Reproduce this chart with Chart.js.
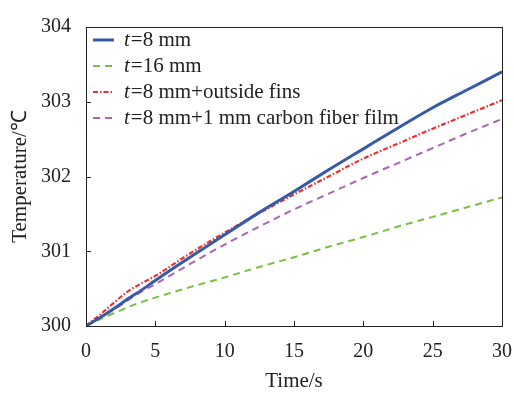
<!DOCTYPE html>
<html>
<head>
<meta charset="utf-8">
<script src="https://cdn.jsdelivr.net/npm/chart.js@4/dist/chart.umd.min.js"></script>
<style>
  body { margin: 0; background: #fff; }
  #wrap { width: 514px; height: 394px; }
</style>
</head>
<body>
<div id="wrap"><canvas id="tempChart" width="514" height="394"></canvas></div>
<script>
const times = [0, 1, 2, 3, 4, 5, 7.5, 10, 12.5, 15, 17.5, 20, 22.5, 25, 27.5, 30];
const t8 = [300, 300.11, 300.23, 300.36, 300.48, 300.61, 300.92, 301.22, 301.52, 301.80, 302.09, 302.37, 302.65, 302.92, 303.16, 303.40];
const t16 = [300, 300.09, 300.17, 300.25, 300.32, 300.38, 300.52, 300.65, 300.79, 300.92, 301.06, 301.19, 301.33, 301.46, 301.59, 301.72];
const t8Fins = [300, 300.15, 300.31, 300.46, 300.57, 300.67, 300.97, 301.25, 301.51, 301.76, 302.00, 302.24, 302.44, 302.64, 302.83, 303.02];
const t8Film = [300, 300.11, 300.22, 300.34, 300.46, 300.56, 300.83, 301.09, 301.33, 301.56, 301.77, 301.98, 302.18, 302.38, 302.58, 302.77];
const seriesNames = ["=8 mm", "=16 mm", "=8 mm+outside fins", "=8 mm+1 mm carbon fiber film"];
const xTicks = [5, 10, 15, 20, 25];
const yTicks = [301, 302, 303];

const serif = "'Liberation Serif', 'Times New Roman', serif";
const colors = ["#3659a8", "#78c043", "#ee2f2f", "#a866b4"];
const dashes = [[], [7, 5], [5, 2, 1.5, 2], [7, 5]];
const widths = [3, 2, 2.2, 2];

const pts = (vals) => times.map((t, i) => ({ x: t, y: vals[i] }));
const allVals = [t8, t16, t8Fins, t8Film];

const framePlugin = {
    id: "frame",
    afterDatasetsDraw(chart) {
        const { ctx, chartArea: a, scales } = chart;
        ctx.save();
        ctx.strokeStyle = "#222";
        ctx.lineWidth = 1;
        ctx.setLineDash([]);
        ctx.strokeRect(a.left + 0.5, a.top + 0.5, a.right - a.left, a.bottom - a.top);
        ctx.beginPath();
        yTicks.forEach(v => {
            const y = Math.round(scales.y.getPixelForValue(v)) + 0.5;
            ctx.moveTo(a.left, y);
            ctx.lineTo(a.left + 5, y);
        });
        xTicks.forEach(v => {
            const x = Math.round(scales.x.getPixelForValue(v)) + 0.5;
            ctx.moveTo(x, a.bottom);
            ctx.lineTo(x, a.bottom - 5);
        });
        ctx.stroke();

        // legend
        ctx.textBaseline = "middle";
        seriesNames.forEach((name, i) => {
            const y = a.top + 13 + i * 26;
            ctx.beginPath();
            ctx.strokeStyle = colors[i];
            ctx.lineWidth = widths[i];
            ctx.setLineDash(dashes[i]);
            ctx.moveTo(a.left + 7, y);
            ctx.lineTo(a.left + 28, y);
            ctx.stroke();
            ctx.setLineDash([]);
            ctx.fillStyle = "#222";
            ctx.font = "italic 21px " + serif;
            ctx.fillText("t", a.left + 38, y);
            const w = ctx.measureText("t").width;
            ctx.font = "21px " + serif;
            ctx.fillText(name, a.left + 38 + w + 1, y);
        });
        ctx.restore();
    }
};

new Chart(document.getElementById("tempChart"), {
    type: "line",
    data: {
        datasets: allVals.map((vals, i) => ({
            label: "t" + seriesNames[i],
            data: pts(vals),
            borderColor: colors[i],
            borderWidth: widths[i],
            borderDash: dashes[i],
            pointRadius: 0,
            fill: false,
            cubicInterpolationMode: "monotone",
        })),
    },
    options: {
        responsive: false,
        animation: false,
        layout: { padding: { top: 19, right: 12, left: 0, bottom: 0 } },
        plugins: { legend: { display: false }, tooltip: { enabled: false } },
        scales: {
            x: {
                type: "linear",
                min: 0,
                max: 30,
                afterFit: (s) => { s.height = 68; s.paddingRight = 0; s.paddingLeft = 0; },
                grid: { display: false, drawTicks: false },
                border: { display: false },
                ticks: { stepSize: 5, padding: 14, color: "#222", font: { family: serif, size: 20 } },
                title: { display: true, text: "Time/s", color: "#222", font: { family: serif, size: 21 }, padding: { top: 5, bottom: 0 } },
            },
            y: {
                min: 300,
                max: 304,
                afterFit: (s) => { s.width = 86; },
                grid: { display: false, drawTicks: false },
                border: { display: false },
                ticks: { stepSize: 1, padding: 15, color: "#222", font: { family: serif, size: 20 } },
                title: { display: true, text: "Temperature/℃", color: "#222", font: { family: serif, size: 21 }, padding: { top: 8, bottom: 0 } },
            },
        },
    },
    plugins: [framePlugin],
});
</script>
</body>
</html>
